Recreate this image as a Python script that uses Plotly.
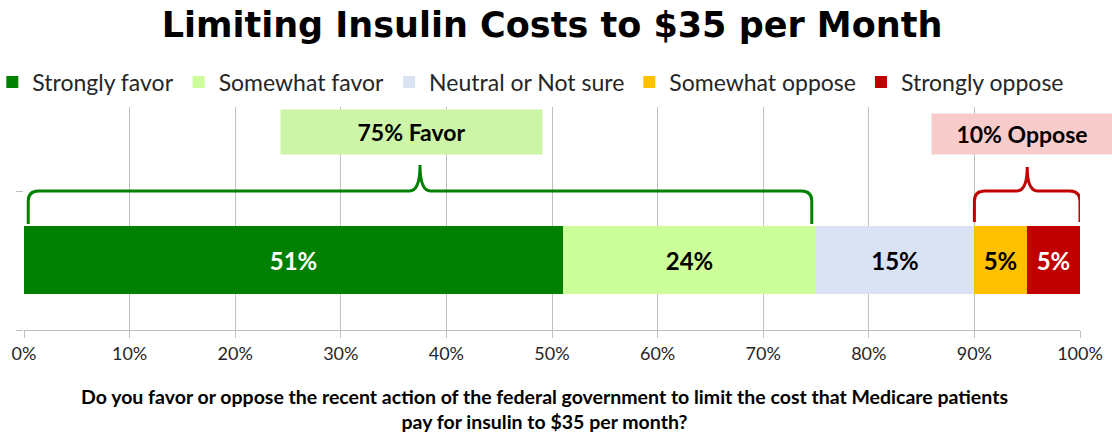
import plotly.graph_objects as go

categories = ["Strongly favor", "Somewhat favor", "Neutral or Not sure", "Somewhat oppose", "Strongly oppose"]
values = [51, 24, 15, 5, 5]
colors = ["#008000", "#ccff99", "#dae3f3", "#ffc000", "#c00000"]
text_colors = ["white", "black", "black", "black", "white"]
tick_vals = [0, 10, 20, 30, 40, 50, 60, 70, 80, 90, 100]
tick_text = [f"{v}%" for v in tick_vals]
favor_label = "75% Favor"
oppose_label = "10% Oppose"
title = "Limiting Insulin Costs to $35 per Month"
question = ("Do you favor or oppose the recent action of the federal government to limit the cost that Medicare patients"
            "<br>pay for insulin to $35 per month?")

BAR_Y = 70
fig = go.Figure()
for cat, v, c, tc in zip(categories, values, colors, text_colors):
    fig.add_trace(go.Bar(
        y=[BAR_Y], x=[v], name=cat, orientation="h", width=68,
        marker=dict(color=c, line=dict(width=0)),
        text=[f"{v}%"], textposition="inside", insidetextanchor="middle",
        textfont=dict(family="Lato", size=24, color=tc, weight="bold"),
        hoverinfo="skip",
    ))

favor_total = values[0] + values[1]
oppose_start = sum(values[:3])
oppose_end = sum(values)

# braces
fx0, fx1 = 0.4, favor_total - 0.4
fmid = (fx0 + fx1) / 2
green_path = (f"M {fx0},106 L {fx0},129 Q {fx0},139 {fx0+1.0},139 "
              f"L {fmid-1.0},139 Q {fmid},139 {fmid},165 Q {fmid},139 {fmid+1.0},139 "
              f"L {fx1-1.0},139 Q {fx1},139 {fx1},129 L {fx1},106")
ox0, ox1 = oppose_start, oppose_end
omid = (ox0 + ox1) / 2
red_path = (f"M {ox0},108 L {ox0},129 Q {ox0},139 {ox0+1.0},139 "
            f"L {omid-1.0},139 Q {omid},139 {omid},163 Q {omid},139 {omid+1.0},139 "
            f"L {ox1-1.0},139 Q {ox1},139 {ox1},129 L {ox1},108")
fig.add_shape(type="path", path=green_path, xref="x", yref="y",
              line=dict(color="#008000", width=3))
fig.add_shape(type="path", path=red_path, xref="x", yref="y",
              line=dict(color="#c00000", width=3))

fig.add_annotation(x=fmid - 0.8, y=198, xref="x", yref="y", text=f"<b>{favor_label}</b>",
                   showarrow=False, bgcolor="#ccf5a8", width=259, height=42,
                   font=dict(family="Lato", size=23, color="black"))
fig.add_annotation(x=94.5, y=196, xref="x", yref="y", text=f"<b>{oppose_label}</b>",
                   showarrow=False, bgcolor="#f9cccc", width=178, height=38,
                   font=dict(family="Lato", size=23, color="black"))

fig.add_annotation(x=0.493, y=-0.355, xref="paper", yref="paper", text=f"<b>{question}</b>",
                   showarrow=False, align="center", yanchor="middle",
                   font=dict(family="Lato", size=19.5, color="black"))

fig.update_layout(
    width=1112, height=433,
    margin=dict(l=24, r=32, t=107, b=103, autoexpand=False),
    plot_bgcolor="white", paper_bgcolor="white",
    barmode="stack",
    bargap=0,
    title=dict(text=f"<b>{title}</b>", x=0.5, xref="paper", y=1 - 25 / 433, yref="container",
               xanchor="center", yanchor="middle",
               font=dict(family="DejaVu Sans", size=35, color="black")),
    legend=dict(orientation="h", x=-0.03, xref="paper", y=1 + 25 / 223,
                yanchor="middle",
                font=dict(family="Lato", size=23, color="#262626"), traceorder="normal",
                itemclick=False, itemdoubleclick=False),
    xaxis=dict(range=[0, 100], tickvals=tick_vals, ticktext=tick_text, showgrid=True,
               gridcolor="#bfbfbf", gridwidth=1, zeroline=False, showline=True,
               linecolor="#bfbfbf", linewidth=1, ticks="outside", ticklen=7,
               tickcolor="#bfbfbf", automargin=False,
               tickfont=dict(family="Lato", size=18, color="#262626")),
    yaxis=dict(range=[0, 223], tickvals=[0, 139], showticklabels=False, showgrid=False,
               zeroline=False, showline=False, ticks="outside", ticklen=7,
               tickcolor="#bfbfbf", automargin=False),
    showlegend=True,
)

fig.write_html("out.html")
